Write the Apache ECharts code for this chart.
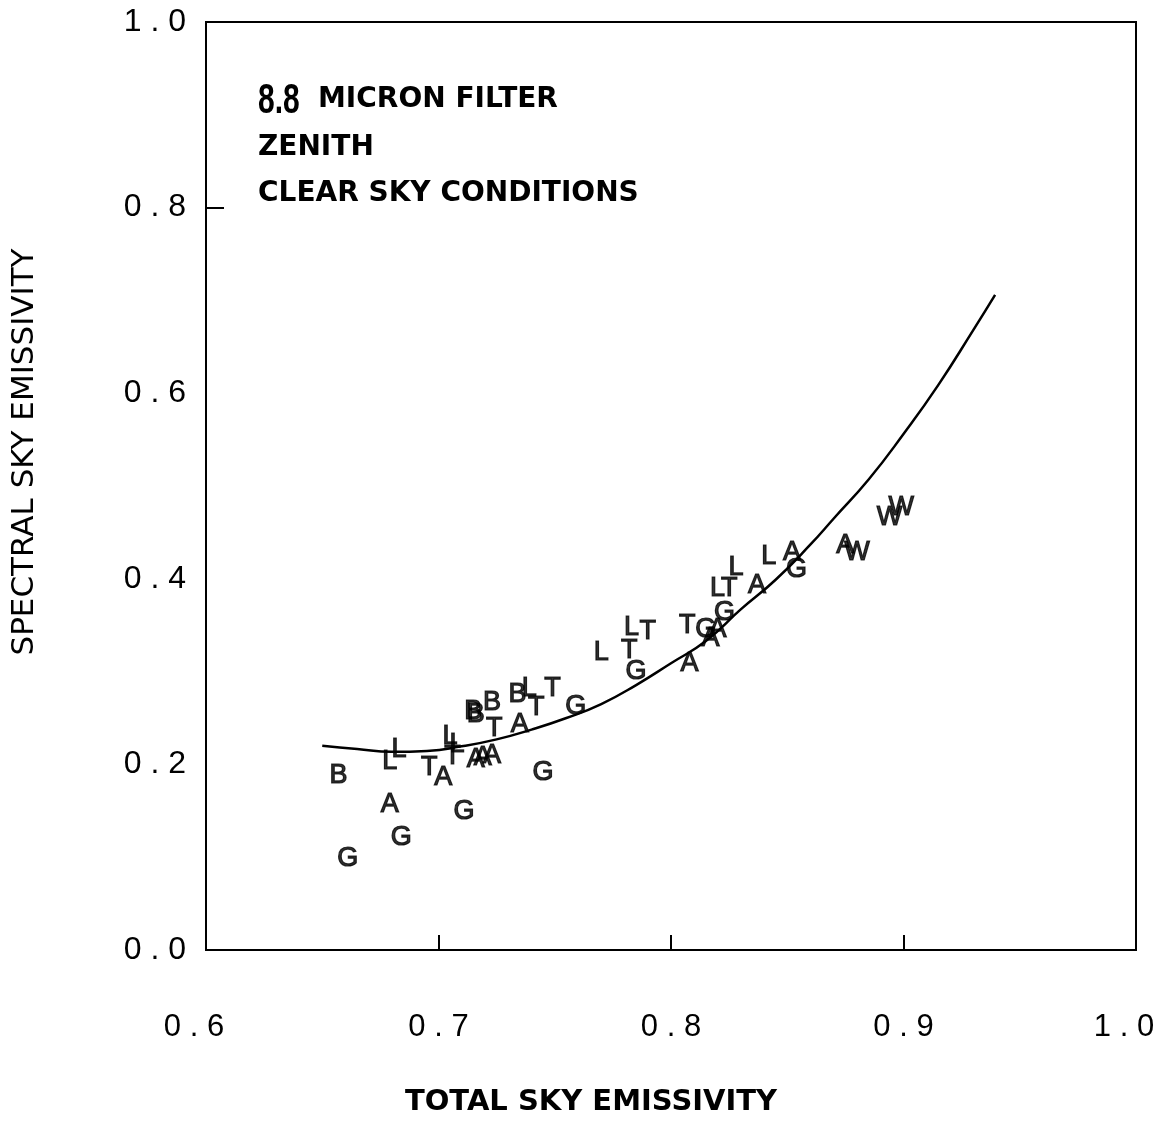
<!DOCTYPE html>
<html>
<head>
<meta charset="utf-8">
<title>Spectral vs total sky emissivity</title>
<script src="https://cdn.jsdelivr.net/npm/echarts@6/dist/echarts.min.js"></script>
<style>
  html, body { margin: 0; padding: 0; background: #fff; overflow: hidden; }
  #chart { width: 1162px; height: 1126px; }
</style>
</head>
<body>
<div id="chart"></div>
<script>
// Axis ticks
const xTicks = [0.6, 0.7, 0.8, 0.9, 1.0];
const yTicks = [0.0, 0.2, 0.4, 0.6, 0.8, 1.0];
const yTickMarks = [0.8];

// Observations, one list per station letter: [total emissivity, spectral emissivity]
const pointsB = [[0.657, 0.188], [0.715, 0.257], [0.716, 0.254], [0.723, 0.267], [0.734, 0.275]];
const pointsL = [[0.679, 0.203], [0.683, 0.216], [0.705, 0.230], [0.708, 0.221], [0.739, 0.282],
                 [0.770, 0.320], [0.783, 0.347], [0.820, 0.390], [0.828, 0.412], [0.842, 0.424]];
const pointsT = [[0.696, 0.197], [0.706, 0.208], [0.724, 0.239], [0.742, 0.261], [0.749, 0.282],
                 [0.782, 0.323], [0.790, 0.343], [0.807, 0.350], [0.825, 0.390]];
const pointsA = [[0.679, 0.157], [0.702, 0.186], [0.716, 0.205], [0.719, 0.207], [0.723, 0.210],
                 [0.735, 0.243], [0.808, 0.309], [0.817, 0.336], [0.820, 0.345], [0.837, 0.393],
                 [0.852, 0.428], [0.875, 0.436]];
const pointsG = [[0.661, 0.099], [0.684, 0.121], [0.711, 0.149], [0.745, 0.191], [0.759, 0.262],
                 [0.785, 0.300], [0.815, 0.345], [0.823, 0.364], [0.854, 0.410]];
const pointsW = [[0.880, 0.428], [0.894, 0.466], [0.899, 0.477]];

// Fitted regression curve
const fitCurve = [[0.650, 0.2200], [0.665, 0.2165], [0.680, 0.2135], [0.695, 0.2145], [0.710, 0.2195],
                  [0.725, 0.2270], [0.740, 0.2375], [0.755, 0.2500], [0.770, 0.2650], [0.785, 0.2855],
                  [0.800, 0.3090], [0.815, 0.3330], [0.830, 0.3670], [0.845, 0.3990], [0.860, 0.4370],
                  [0.870, 0.4650], [0.885, 0.5070], [0.900, 0.5560], [0.915, 0.6090], [0.930, 0.6680],
                  [0.9394, 0.7060]];

const annotationLines = ['8.8', 'MICRON FILTER', 'ZENITH', 'CLEAR SKY CONDITIONS'];

const spaced = v => v.toFixed(1).split('').join(' ');

const tickFont = { fontFamily: 'Liberation Sans', fontSize: 31, color: '#000' };

function letterSeries(letter, data) {
  return {
    type: 'scatter',
    name: letter,
    data: data,
    symbol: 'circle',
    symbolSize: 1,
    itemStyle: { color: 'rgba(0,0,0,0)' },
    label: {
      show: true,
      position: 'inside',
      formatter: letter,
      color: '#000',
      fontFamily: 'Liberation Sans',
      fontSize: 27,
      textBorderColor: '#000',
      textBorderWidth: 1.2,
      align: 'center',
      verticalAlign: 'middle'
    },
    emphasis: { disabled: true },
    z: 3
  };
}

const chart = echarts.init(document.getElementById('chart'), null, { renderer: 'canvas' });

chart.setOption({
  animation: false,
  backgroundColor: '#fff',
  grid: {
    left: 206, right: 26, top: 22, bottom: 176,
    outerBoundsMode: 'none',
    show: true, borderColor: '#000', borderWidth: 2,
    containLabel: false
  },
  xAxis: {
    type: 'value',
    min: 0.6, max: 1.0, interval: 0.1,
    name: 'TOTAL SKY EMISSIVITY',
    nameLocation: 'middle',
    nameGap: 138,
    nameTextStyle: {
      color: '#000', fontFamily: 'DejaVu Sans', fontWeight: 'bold', fontSize: 29,
      padding: [0, 160, 0, 0]
    },
    axisLine: { show: true, lineStyle: { color: '#000', width: 2 } },
    axisTick: { show: true, inside: true, length: 15, lineStyle: { color: '#000', width: 2 } },
    axisLabel: {
      margin: 62, color: '#000', fontFamily: 'Liberation Sans', fontSize: 31,
      formatter: v => {
        const t = spaced(v);
        if (v === xTicks[0] || v === xTicks[xTicks.length - 1]) return '{edge|' + t + '}';
        return t;
      },
      rich: {
        edge: Object.assign({ padding: [0, 24, 0, 0] }, tickFont)
      }
    },
    splitLine: { show: false }
  },
  yAxis: {
    type: 'value',
    min: 0.0, max: 1.0, interval: 0.2,
    name: 'SPECTRAL SKY EMISSIVITY',
    nameLocation: 'middle',
    nameGap: 166,
    nameRotate: 90,
    nameTextStyle: {
      color: '#000', fontFamily: 'DejaVu Sans', fontSize: 31,
      padding: [0, 0, 0, 68]
    },
    axisLine: { show: true, lineStyle: { color: '#000', width: 2 } },
    axisTick: {
      show: true, inside: true, length: 18, customValues: yTickMarks,
      lineStyle: { color: '#000', width: 2 }
    },
    axisLabel: {
      margin: 20, color: '#000', fontFamily: 'Liberation Sans', fontSize: 32,
      formatter: v => spaced(v)
    },
    splitLine: { show: false }
  },
  graphic: [
    { type: 'text', left: 258, top: 80, scaleY: 1.4,
      style: { text: annotationLines[0], fill: '#000', font: 'bold 30px "Liberation Sans"' } },
    { type: 'text', left: 318, top: 86,
      style: { text: annotationLines[1], fill: '#000', font: 'bold 28px "DejaVu Sans"' } },
    { type: 'text', left: 258, top: 134,
      style: { text: annotationLines[2], fill: '#000', font: 'bold 28px "DejaVu Sans"' } },
    { type: 'text', left: 258, top: 180,
      style: { text: annotationLines[3], fill: '#000', font: 'bold 28px "DejaVu Sans"' } }
  ],
  series: [
    {
      type: 'line',
      name: 'fit',
      data: fitCurve,
      smooth: 0.5,
      showSymbol: false,
      lineStyle: { color: '#000', width: 2.5 },
      emphasis: { disabled: true },
      z: 2
    },
    letterSeries('B', pointsB),
    letterSeries('L', pointsL),
    letterSeries('T', pointsT),
    letterSeries('A', pointsA),
    letterSeries('G', pointsG),
    letterSeries('W', pointsW)
  ]
});
</script>
</body>
</html>
